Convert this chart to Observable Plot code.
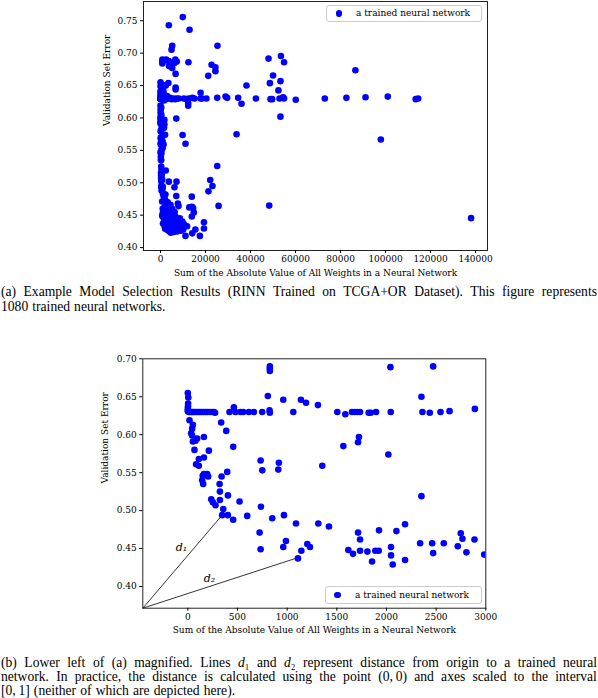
<!DOCTYPE html>
<html><head><meta charset="utf-8">
<script src="https://cdn.jsdelivr.net/npm/d3@7"></script>
<script src="https://cdn.jsdelivr.net/npm/@observablehq/plot@0.6"></script>
<style>
body{margin:0;background:#fff;}
#page{position:relative;width:598px;height:698px;overflow:hidden;background:#fff;}
.abs{position:absolute;left:0;}
.line{position:absolute;left:1px;width:596px;height:15px;display:flex;align-items:center;font-family:"Liberation Serif","DejaVu Serif",serif;font-size:13.6px;color:#000;white-space:nowrap;}
.line.j{justify-content:space-between;}
.line.l{justify-content:flex-start;}
.line.l span{margin-right:0.3em;}
.legend{position:absolute;border:1px solid #cccccc;border-radius:3px;background:rgba(255,255,255,0.8);font-family:"DejaVu Serif",serif;font-size:9px;color:#000;box-sizing:border-box;}
.legend .dot{position:absolute;width:6.4px;height:6.4px;border-radius:50%;background:#0000ff;}
.legend .txt{position:absolute;white-space:nowrap;line-height:10px;}
</style></head>
<body>
<div id="page">
  <div id="plotA" class="abs" style="top:0px"></div>
  <div id="plotB" class="abs" style="top:345px"></div>
</div>
<script>
// ---------- data ----------
// networks with weight sum below 3000 (visible in panel b and in panel a's left column)
const smallX = [0,5,3,2,0,0,
  10,20,32,45,58,72,88,105,122,140,160,180,200,222,245,262,275,
  420,464,480,531,558,615,665,749,823,826,1062,1505,1586,1653,1680,1707,1734,1821,1841,1895,2043,2362,2436,2544,2635,2890,
  826,826,826,2040,2470,806,961,1139,1190,1310,2352,
  17,336,51,44,387,34,44,162,94,77,51,1723,1714,67,212,457,1566,2019,111,162,733,917,84,111,1354,750,911,397,
  162,195,205,150,340,145,155,320,323,404,2352,236,252,279,323,521,357,736,346,403,457,598,850,968,
  1089,1314,1421,2187,2100,1925,1714,723,1734,2748,2765,2886,988,733,961,1203,1230,1143,1109,
  1616,1663,1734,1808,1855,1888,1922,2046,2046,2063,2187,2339,2460,2470,2577,2718,2805,2984];
const smallY = [0.655,0.649,0.641,0.637,0.634,0.631,
  0.630,0.630,0.630,0.630,0.630,0.630,0.630,0.630,0.630,0.630,0.630,0.630,0.630,0.630,0.630,0.630,0.629,
  0.630,0.636,0.630,0.630,0.630,0.630,0.630,0.630,0.632,0.629,0.630,0.630,0.627,0.630,0.630,0.630,0.630,0.629,0.629,0.630,0.630,0.630,0.629,0.630,0.631,0.634,
  0.690,0.687,0.684,0.689,0.690,0.651,0.646,0.646,0.642,0.639,0.650,
  0.619,0.616,0.613,0.608,0.605,0.602,0.599,0.597,0.595,0.592,0.591,0.597,0.590,0.580,0.579,0.584,0.585,0.574,0.568,0.570,0.566,0.563,0.561,0.559,0.559,0.553,0.554,0.551,
  0.548,0.548,0.545,0.546,0.545,0.540,0.535,0.535,0.525,0.520,0.519,0.515,0.511,0.507,0.514,0.512,0.502,0.505,0.494,0.494,0.488,0.493,0.490,0.494,
  0.483,0.483,0.479,0.482,0.473,0.474,0.471,0.471,0.462,0.470,0.463,0.462,0.460,0.449,0.452,0.456,0.452,0.447,0.437,
  0.448,0.443,0.447,0.446,0.433,0.447,0.447,0.452,0.441,0.429,0.435,0.457,0.457,0.444,0.457,0.453,0.445,0.442];
// networks with weight sum of 3000 or more (panel a only)
const largeX = [9900,3700,12900,5200,4900,25300,
  3700,6600,6200,7200,4500,3800,5200,12400,6700,22700,24400,24400,21200,38200,6700,6700,3500,
  3500,4200,5000,5800,6500,7300,8100,10400,11600,12600,14100,15100,17800,18500,20400,25200,28900,29600,34500,42400,48900,49600,52900,54500,54900,60100,73000,82600,91100,101000,113400,114500,
  17800,12300,12300,36000,7000,
  48000,53500,54900,50000,48600,53300,52400,86600,53300,33800,97900,48300,138000,
  9800,11100,25200,22100,23100,21300,3700,7100,6200,7000,13900,7700,8000,25800,12800,14000,14500,14800,13900,19300,19300,17500,11100,14100,15500,11800,10400,8900,
  3200,3600,4100,3300,3900,4500,5000,3400,4200,4800,3600,5400,3100,4000,4600,5600,6000,5500,6400,7000,6800,7600,8200,9000,5200,6300,3800,4400,7800,8600,9700,10100,3500,4700,5800,6600,3200,4300,5100,7300];
const largeY = [0.7556,0.743,0.736,0.7115,0.7054,0.7115,
  0.688,0.690,0.685,0.687,0.684,0.680,0.677,0.686,0.668,0.682,0.678,0.672,0.665,0.650,0.647,0.644,0.654,
  0.630,0.631,0.629,0.630,0.629,0.630,0.630,0.630,0.629,0.630,0.631,0.630,0.630,0.630,0.630,0.631,0.633,0.631,0.631,0.630,0.629,0.629,0.630,0.632,0.630,0.628,0.630,0.631,0.632,0.633,0.629,0.630,
  0.639,0.619,0.623,0.622,0.599,
  0.6916,0.6957,0.686,0.6655,0.6537,0.6568,0.6425,0.6737,0.602,0.5749,0.5667,0.4648,0.4454,
  0.5736,0.5602,0.5258,0.5043,0.4951,0.4868,0.5017,0.5017,0.4930,0.4797,0.4786,0.468,0.464,0.4643,0.462,0.463,0.461,0.454,0.448,0.439,0.4294,0.418,0.418,0.422,0.428,0.433,0.436,0.431,
  0.470,0.462,0.455,0.450,0.446,0.448,0.441,0.440,0.437,0.433,0.431,0.429,0.427,0.425,0.423,0.437,0.444,0.452,0.430,0.427,0.436,0.432,0.427,0.426,0.460,0.455,0.458,0.466,0.441,0.445,0.440,0.428,0.435,0.428,0.424,0.448,0.444,0.443,0.447,0.425];

const xTicksA = [0,20000,40000,60000,80000,100000,120000,140000];
const yTicksA = [0.40,0.45,0.50,0.55,0.60,0.65,0.70,0.75];
const xTicksB = [0,500,1000,1500,2000,2500,3000];
const yTicksB = [0.40,0.45,0.50,0.55,0.60,0.65,0.70];
const xDomainA = [-7560,145300], yDomainA = [0.3955,0.7797];
const xDomainB = [-453,3000], yDomainB = [0.3714,0.70];
// networks the distance lines d1 and d2 point to
const distTargets = [{name:"d\u2081", x:346, y:0.494}, {name:"d\u2082", x:1109, y:0.438}];

const xLabel = "Sum of the Absolute Value of All Weights in a Neural Network";
const yLabel = "Validation Set Error";
const legendText = "a trained neural network";
const captionA = [
  "(a) Example Model Selection Results (RINN Trained on TCGA+OR Dataset). This figure represents",
  "1080 trained neural networks."];
const captionB = [
  "(b) Lower left of (a) magnified. Lines <i>d</i>\u2081 and <i>d</i>\u2082 represent distance from origin to a trained neural",
  "network. In practice, the distance is calculated using the point (0,&thinsp;0) and axes scaled to the interval",
  "[0,&thinsp;1] (neither of which are depicted here)."];

// ---------- build ----------
const small = smallX.map((x,i)=>({x, y: smallY[i]}));
const large = largeX.map((x,i)=>({x, y: largeY[i]}));
const all = small.concat(large);

const style = {fontFamily:"'DejaVu Serif', serif", fontSize:"9px", color:"#000", background:"transparent", overflow:"visible"};
const fmt2 = d3.format(".2f");

const plotA = Plot.plot({
  width: 598, height: 282,
  marginTop: 1, marginBottom: 32, marginLeft: 143, marginRight: 111,
  style,
  x: {domain: xDomainA},
  y: {domain: yDomainA},
  marks: [
    Plot.dot(all, {x:"x", y:"y", r:3.3, fill:"#0000ff", stroke:"none"}),
    Plot.frame({stroke:"#222", strokeWidth:1}),
    Plot.axisX({ticks: xTicksA, tickFormat: d3.format("d"), tickSize: 3, tickPadding: 2, label: null, fontSize: 9}),
    Plot.axisY({ticks: yTicksA, tickFormat: fmt2, tickSize: 3, tickPadding: 3, label: null, fontSize: 9}),
    Plot.text([xLabel], {text: d=>d, frameAnchor:"bottom", dy: 25, fontSize: 9}),
    Plot.text([yLabel], {text: d=>d, frameAnchor:"left", dx: -36, rotate: -90, fontSize: 9})
  ]
});
document.getElementById("plotA").appendChild(plotA);

const plotB = Plot.plot({
  width: 598, height: 295,
  marginTop: 13.3, marginBottom: 32.3, marginLeft: 142.3, marginRight: 112.7,
  style,
  x: {domain: xDomainB},
  y: {domain: yDomainB},
  marks: [
    Plot.link(distTargets, {x1: ()=>xDomainB[0], y1: ()=>yDomainB[0], x2:"x", y2:"y", stroke:"#000", strokeWidth:0.8}),
    Plot.dot(small, {x:"x", y:"y", r:3.3, fill:"#0000ff", stroke:"none", clip:true}),
    Plot.text(distTargets, {x: d=>(xDomainB[0]+d.x)/2, y: d=>(yDomainB[0]+d.y)/2, text:"name",
      fontStyle:"italic", fontSize: 11, fontFamily:"'DejaVu Serif', serif"}),
    Plot.frame({stroke:"#222", strokeWidth:1}),
    Plot.axisX({ticks: xTicksB, tickFormat: d3.format("d"), tickSize: 3, tickPadding: 2, label: null, fontSize: 9}),
    Plot.axisY({ticks: yTicksB, tickFormat: fmt2, tickSize: 3, tickPadding: 3, label: null, fontSize: 9}),
    Plot.text([xLabel], {text: d=>d, frameAnchor:"bottom", dy: 25, fontSize: 9}),
    Plot.text([yLabel], {text: d=>d, frameAnchor:"left", dx: -38, rotate: -90, fontSize: 9})
  ]
});
document.getElementById("plotB").appendChild(plotB);

// shift d labels to sit beside their lines like the reference
const dOffsets = [[-1,-14],[-11,-4]];
const dTexts = Array.from(plotB.querySelectorAll("text")).filter(t => t.textContent.startsWith("d"));
dTexts.forEach((t,i)=>{ if (dOffsets[i]) t.setAttribute("transform", (t.getAttribute("transform")||"") + ` translate(${dOffsets[i][0]},${dOffsets[i][1]})`); });

const page = document.getElementById("page");
function legend(left, top, w, h, dotX, dotY, txtX){
  const L = document.createElement("div");
  L.className = "legend";
  Object.assign(L.style, {left:left+"px", top:top+"px", width:w+"px", height:h+"px"});
  const dt = document.createElement("div"); dt.className = "dot";
  Object.assign(dt.style, {left:(dotX-left-1-3.2)+"px", top:(dotY-top-1-3.2)+"px"});
  const tx = document.createElement("div"); tx.className = "txt"; tx.textContent = legendText;
  Object.assign(tx.style, {left:(txtX-left-1)+"px", top:(dotY-top-1-5.5)+"px"});
  L.appendChild(dt); L.appendChild(tx); page.appendChild(L);
}
legend(325.5, 5, 156.5, 17, 339, 13.5, 356);
legend(325, 586, 157, 17.5, 337.5, 595, 355);

function caption(lines, centers){
  lines.forEach((ln, i)=>{
    const d = document.createElement("div");
    const last = i === lines.length - 1;
    d.className = "line " + (last ? "l" : "j");
    d.style.top = (centers[i] - 7.5) + "px";
    // split into words so full lines can be spread to the whole width
    ln.split(" ").forEach(w=>{ const s = document.createElement("span"); s.innerHTML = w; d.appendChild(s); });
    page.appendChild(d);
  });
}
caption(captionA, [291.7, 307.2]);
caption(captionB, [662.5, 677, 691]);
</script>
</body></html>
